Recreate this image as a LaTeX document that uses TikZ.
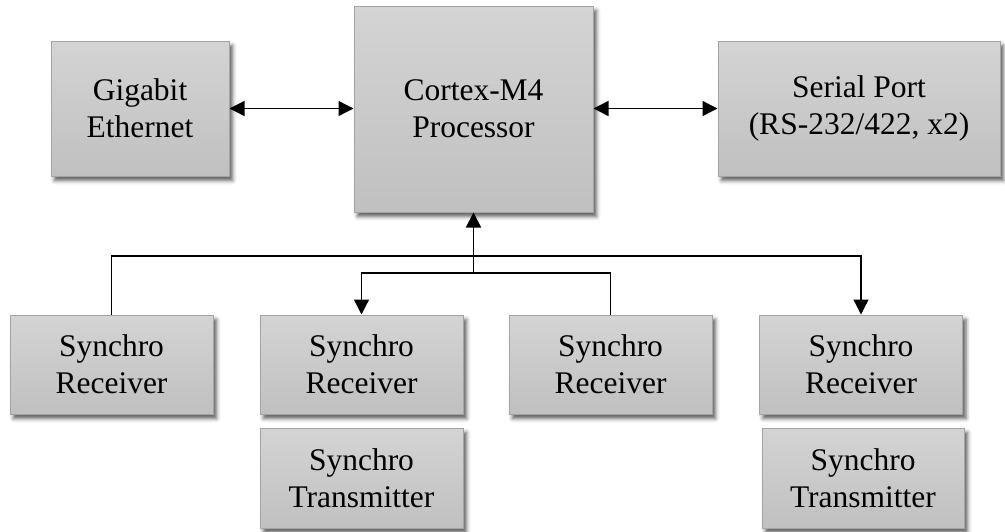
\documentclass[tikz,border=0pt]{standalone}
\usepackage{fontspec}
\setmainfont{Liberation Serif}
\usetikzlibrary{arrows.meta,shadows.blur}
\definecolor{boxtop}{HTML}{D4D4D4}
\definecolor{boxbot}{HTML}{C0C0C0}
\definecolor{boxline}{HTML}{A4A4A4}
\tikzset{
  blk/.style={draw=boxline, line width=1pt, top color=boxtop, bottom color=boxbot,
    align=center, inner sep=0pt, font=\fontsize{31.5}{37}\selectfont,
    blur shadow={shadow xshift=3.5pt, shadow yshift=-4.5pt, shadow blur radius=4pt, shadow opacity=65}},
  conn/.style={line width=1.3pt, draw=black},
  tip/.style={-{Triangle[length=15pt,width=15pt]}},
  biarrow/.style={{Triangle[length=15pt,width=15pt]}-{Triangle[length=15pt,width=15pt]}},
}
\begin{document}
\begin{tikzpicture}[x=1pt,y=-1pt]
\useasboundingbox (0,0) rectangle (1005,531);
\node[blk, minimum width=178pt, minimum height=135pt] (gig) at (140,108.5) {Gigabit\\Ethernet};
\node[blk, minimum width=239pt, minimum height=206pt] (cpu) at (473.5,109) {Cortex-M4\\Processor};
\node[blk, minimum width=282pt, minimum height=135pt] (ser) at (859,108.5) {Serial Port\\(RS-232/422, x2)};
\node[blk, minimum width=203pt, minimum height=99pt] (r1) at (111.5,364.5) {Synchro\\Receiver};
\node[blk, minimum width=203pt, minimum height=99pt] (r2) at (361.5,364.5) {Synchro\\Receiver};
\node[blk, minimum width=203pt, minimum height=100pt] (t2) at (361.5,478) {Synchro\\Transmitter};
\node[blk, minimum width=203pt, minimum height=99pt] (r3) at (610.5,364.5) {Synchro\\Receiver};
\node[blk, minimum width=203pt, minimum height=99pt] (r4) at (861,364.5) {Synchro\\Receiver};
\node[blk, minimum width=202pt, minimum height=100pt] (t4) at (863,478) {Synchro\\Transmitter};
\coordinate (b1) at (0,256);
\coordinate (b2) at (0,273);
\draw[conn,biarrow] (gig.east) -- (cpu.west |- gig.east);
\draw[conn,biarrow] (cpu.east |- ser.west) -- (ser.west);
\draw[conn,tip] (r1.north) |- (b1 -| r4.north) -- (r4.north);
\draw[conn,tip] (r3.north) |- (b2 -| r2.north) -- (r2.north);
\draw[conn,tip,line width=1.8pt] (b2 -| cpu.south) -- (cpu.south);
\end{tikzpicture}
\end{document}
